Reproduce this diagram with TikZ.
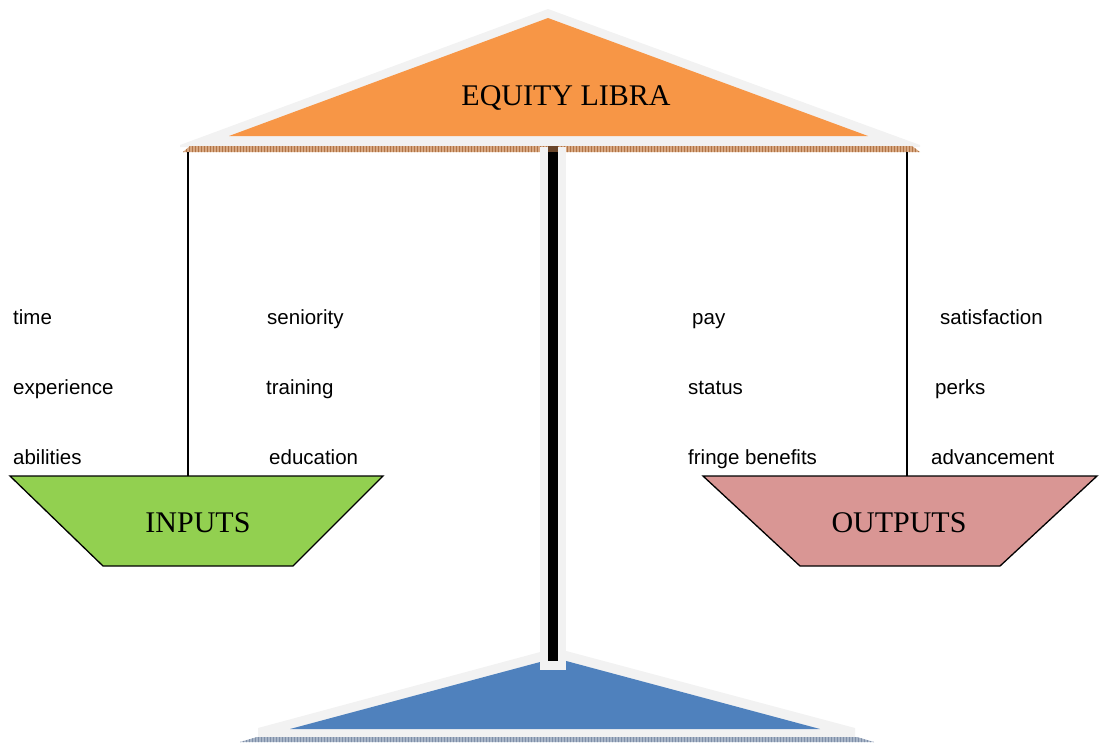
\documentclass[tikz,border=0pt]{standalone}
\usepackage{fontspec}
\setmainfont{Liberation Serif}
\newfontfamily\labelfont{Liberation Sans}
\usetikzlibrary{patterns}
\definecolor{libraorange}{HTML}{F79646}
\definecolor{inputgreen}{HTML}{92D050}
\definecolor{outputpink}{HTML}{D99694}
\definecolor{baseblue}{HTML}{4F81BD}
\definecolor{haze}{HTML}{F2F2F2}
\definecolor{beambrown}{HTML}{D8A882}
\definecolor{beamline}{HTML}{B07446}
\definecolor{basegrey}{HTML}{A9B6C8}
\definecolor{baseline}{HTML}{7F8FA8}
\begin{document}
\begin{tikzpicture}[
    x=1pt, y=-1pt,
    bigtext/.style={font=\fontsize{30}{36}\selectfont, inner sep=0pt},
    itemtext/.style={anchor=base west, inner sep=0pt,
      font=\labelfont\fontsize{20.5}{24}\selectfont},
    panbox/.style={draw=black, line width=1.3pt, line join=miter},
    rope/.style={draw=black, line width=1.2pt}
]
\useasboundingbox (0,0) rectangle (1099,742);

% top of the scale
\fill[haze] (548,9) -- (920,145) -- (920,147) -- (180,147) -- (180,145) -- cycle;
\fill[libraorange] (229,136) -- (548,18) -- (868,136) -- cycle;
\fill[beambrown] (190,146) -- (912,146) -- (920,152) -- (183,152) -- cycle;
\fill[pattern=vertical lines, pattern color=beamline]
  (190,146) -- (912,146) -- (920,152) -- (183,152) -- cycle;

% foot of the scale
\fill[haze] (555,648) -- (855,728) -- (855,737) -- (258,737) -- (258,728) -- cycle;
\fill[baseblue] (290,729) -- (555,658) -- (820,729) -- cycle;
\fill[basegrey] (257,737) -- (857,737) -- (874,742) -- (240,742) -- cycle;
\fill[pattern=vertical lines, pattern color=baseline]
  (257,737) -- (857,737) -- (874,742) -- (240,742) -- cycle;

% pole
\fill[haze] (540,147) rectangle (566,670);
\fill[black] (548,147) rectangle (558,661);
\fill[beamline!60!black] (548,146) rectangle (558,152);

\node (title) [bigtext] at (566,98) {EQUITY LIBRA};

% pans
\filldraw[panbox, fill=inputgreen]
  (10,476) -- (383,476) -- (293,566) -- (103,566) -- cycle;
\filldraw[panbox, fill=outputpink]
  (703,476) -- (1097,476) -- (1000,566) -- (800,566) -- cycle;
\node (inputs)  [bigtext] at (198,523) {INPUTS};
\node (outputs) [bigtext] at (899,523) {OUTPUTS};

\coordinate (inhook)  at (188,152);
\coordinate (inpan)   at (188,476);
\coordinate (outhook) at (907,152);
\coordinate (outpan)  at (907,476);
\draw [rope] (inhook)  -- (inpan);
\draw [rope] (outhook) -- (outpan);

% inputs
\node (in1) [itemtext] at (13,324)  {time};
\node (in2) [itemtext] at (13,394)  {experience};
\node (in3) [itemtext] at (13,464)  {abilities};
\node (in4) [itemtext] at (267,324) {seniority};
\node (in5) [itemtext] at (266,394) {training};
\node (in6) [itemtext] at (269,464) {education};

% outputs
\node (out1) [itemtext] at (692,324) {pay};
\node (out2) [itemtext] at (688,394) {status};
\node (out3) [itemtext] at (688,464) {fringe benefits};
\node (out4) [itemtext] at (940,324) {satisfaction};
\node (out5) [itemtext] at (935,394) {perks};
\node (out6) [itemtext] at (931,464) {advancement};
\end{tikzpicture}
\end{document}
